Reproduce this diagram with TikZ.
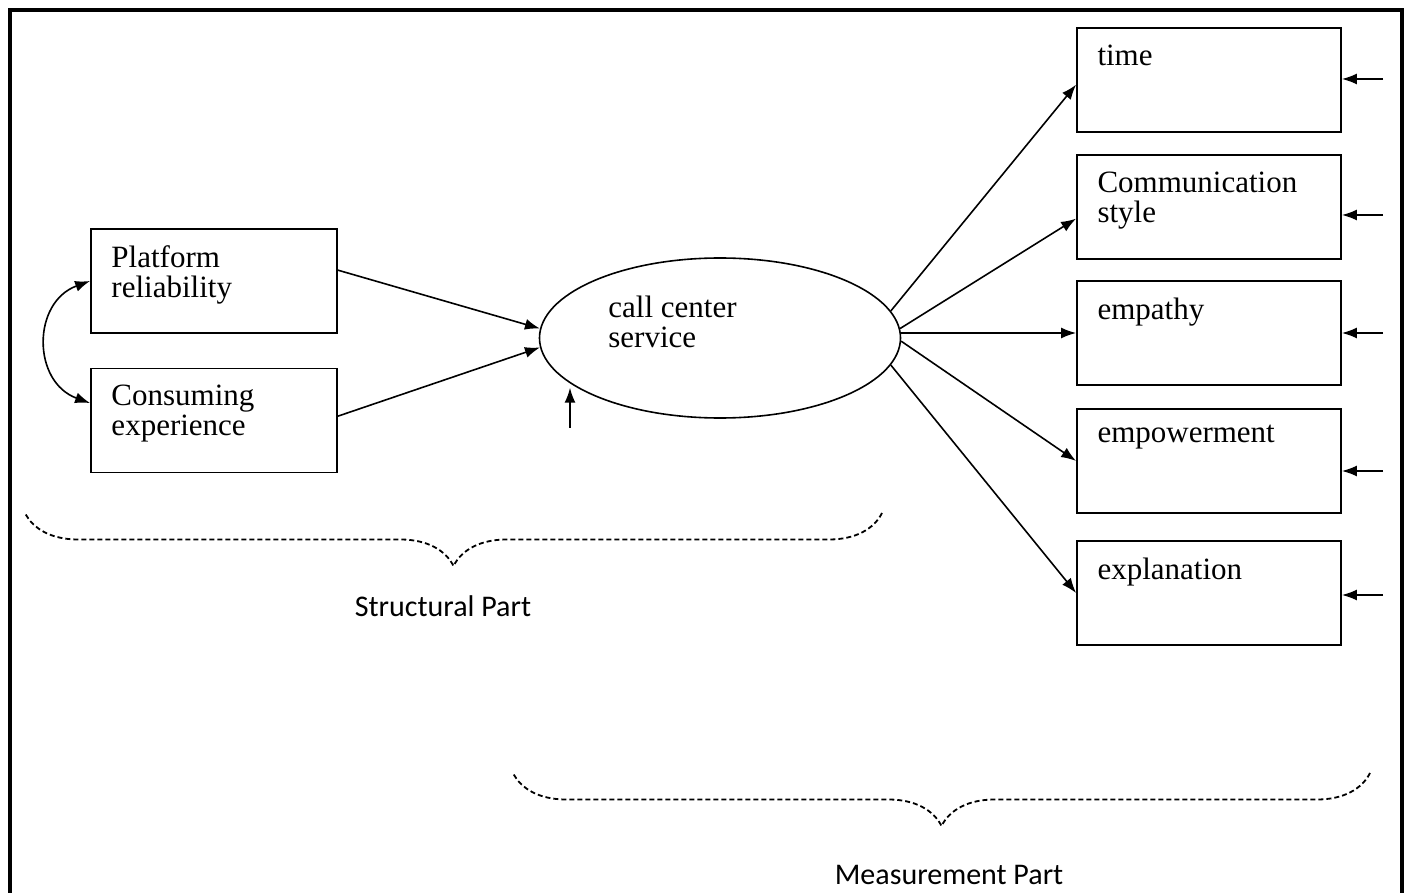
\documentclass[tikz,border=0pt]{standalone}
\usepackage{fontspec}
\setmainfont{Liberation Serif}
\newfontfamily\calibri{Carlito}
\usetikzlibrary{arrows.meta,shapes.geometric,decorations.pathreplacing}

\begin{document}
\begin{tikzpicture}[x=0.5pt,y=-0.5pt,
  box/.style={draw,line width=0.9pt,minimum width=123pt,minimum height=52pt,inner sep=0pt},
  mbox/.style={box,minimum width=132pt},
  lbl/.style={anchor=north west,align=left,inner xsep=10.5pt,inner ysep=8.5pt,font=\fontsize{15.5pt}{15pt}\selectfont},
  arr/.style={-{Latex[length=7.5pt,width=5.5pt]},line width=0.8pt},
  arrs/.style={{Latex[length=7.5pt,width=5.5pt]}-{Latex[length=7.5pt,width=5.5pt]},line width=0.8pt},
  part/.style={font=\calibri\fontsize{15pt}{18pt}\selectfont},
  brc/.style={decorate,decoration={brace,amplitude=26.5pt},dash pattern=on 2.5pt off 1.5pt,line width=0.9pt}]
\useasboundingbox (0,0) rectangle (1410,893);
\draw[line width=2pt] (10,893) -- (10,10) -- (1402,10) -- (1402,893);

\node[box,label={[lbl]north west:Platform\\reliability}] (plat) at (214,281) {};
\node[box,label={[lbl]north west:Consuming\\experience}] (cons) at (214,420.5) {};

\node[draw,ellipse,line width=0.8pt,minimum width=180.5pt,minimum height=80pt,inner sep=0pt] (cc) at (720,338) {};
\node[lbl] (cctxt) at (587,279) {call center\\service};

\node[mbox,label={[lbl]north west:time}] (time) at (1209,80) {};
\node[mbox,label={[lbl]north west:Communication\\style}] (com) at (1209,207) {};
\node[mbox,label={[lbl]north west:empathy}] (emp) at (1209,333) {};
\node[mbox,label={[lbl]north west:empowerment}] (epw) at (1209,461) {};
\node[mbox,label={[lbl]north west:explanation}] (expl) at (1209,593) {};

\draw[arrs] (plat.west) to[bend right=70,looseness=1.3] (cons.172);
\draw[arr] (plat.5) -- (cc.177);
\draw[arr] (cons.2) -- (cc.183);

\coordinate (dz) at (570,428);
\draw[arr,shorten >=3pt] (dz) -- (dz |- cc.196);

\draw[arr] (cc.9) -- (time.182);
\draw[arr] (cc.3) -- (com.185);
\draw[arr] (cc.east |- emp.west) -- (emp.west);
\draw[arr] (cc.-1) -- (epw.west);
\draw[arr] (cc.-9) -- (expl.west);

\coordinate (e1) at (1383,79);
\coordinate (e2) at (1383,215);
\coordinate (e3) at (1383,333);
\coordinate (e4) at (1383,471);
\coordinate (e5) at (1383,595);
\draw[arr] (e1) -- (e1 -| time.east);
\draw[arr] (e2) -- (e2 -| com.east);
\draw[arr] (e3) -- (e3 -| emp.east);
\draw[arr] (e4) -- (e4 -| epw.east);
\draw[arr] (e5) -- (e5 -| expl.east);

\draw[brc] (882,513) -- (25,513);
\node[part] (sp) at (443,606) {Structural Part};
\draw[brc] (1370,773) -- (513,773);
\node[part] (mp) at (949,875) {Measurement Part};
\end{tikzpicture}
\end{document}
